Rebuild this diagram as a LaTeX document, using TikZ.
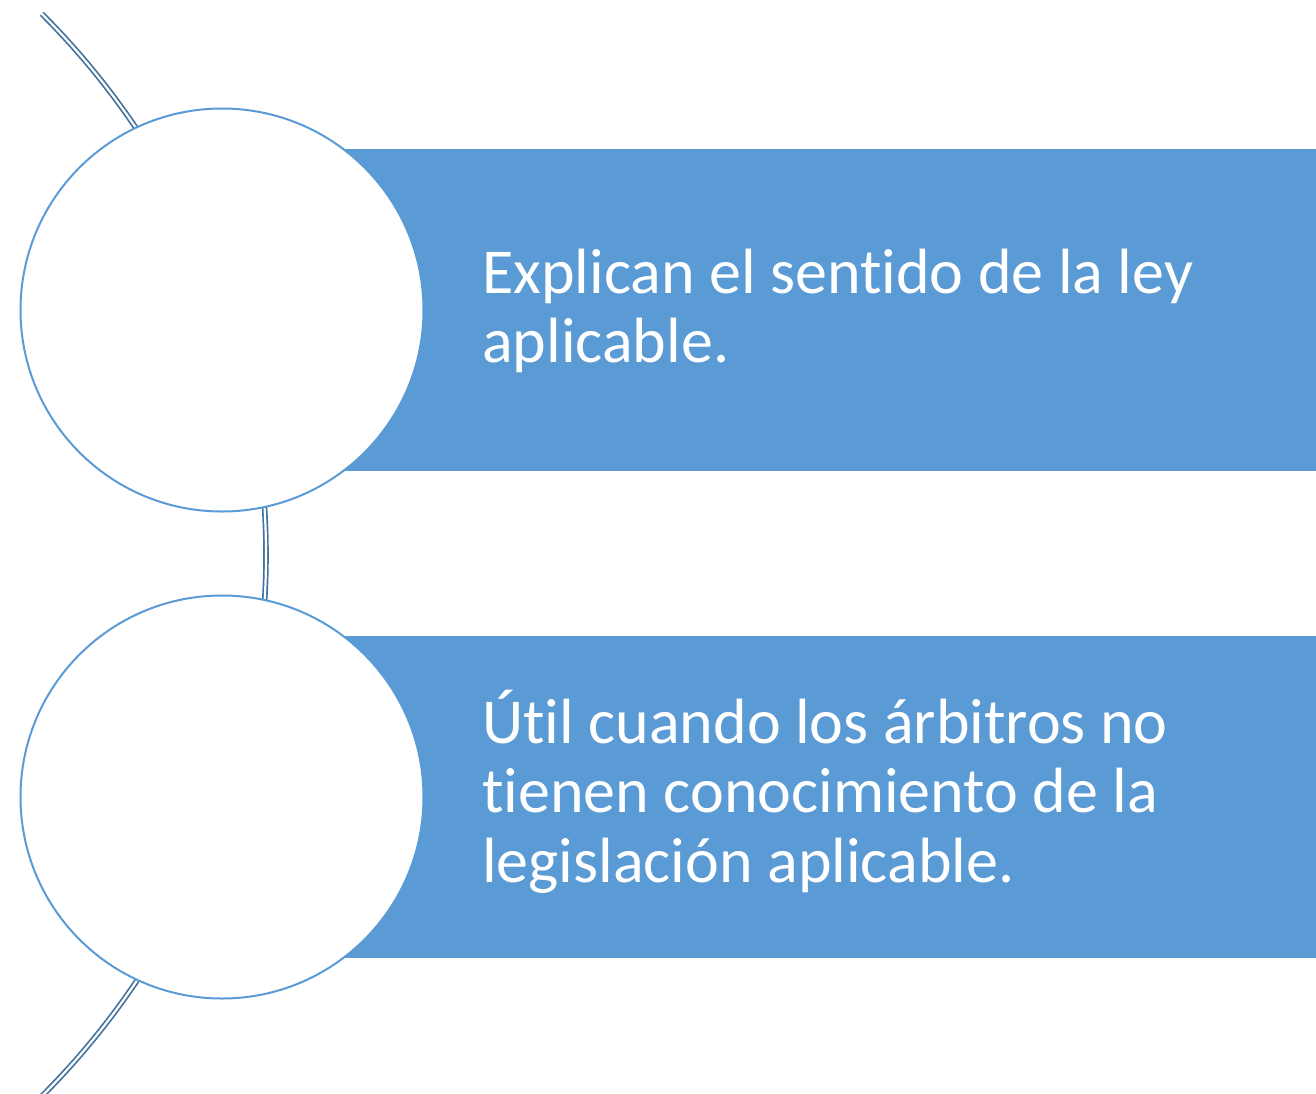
\documentclass[tikz,border=0pt]{standalone}
\usepackage{fontspec}
\setmainfont{Carlito}[Ligatures={NoCommon,NoDiscretionary,NoRare}]
\definecolor{accent}{HTML}{5B9BD5}
\definecolor{arcline}{HTML}{41719C}
\begin{document}
\begin{tikzpicture}[x=1pt,y=-1pt,
  bar/.style={fill=accent,draw=none,rectangle,anchor=north west,inner sep=0pt,minimum width=971pt,minimum height=322pt},
  bubble/.style={circle,draw=accent,line width=2pt,fill=white,minimum size=403pt,inner sep=0pt},
  label/.style={text=white,anchor=base west,align=left,inner sep=0pt,font=\fontsize{64}{69.5}\selectfont}]
\useasboundingbox (0,0) rectangle (1316,1093);
\coordinate (arcc) at (-499.3,555);
\draw[arcline,line width=1.7pt,double=white,double distance=2.2pt] (arcc) ++(-45:765.3) arc[start angle=-45,end angle=45,radius=765.3];
\node[bar] (bar1) at (345,149) {};
\node[bar] (bar2) at (345,636) {};
\node[bubble] (c1) at (222,310) {};
\node[bubble] (c2) at (222,797) {};
\node[label] (t1) at (482,362.5) {Explican el sentido de la ley\\aplicable.};
\node[label] (t2) at (482,882) {Útil cuando los árbitros no\\tienen conocimiento de la\\legislación aplicable.};
\end{tikzpicture}
\end{document}
